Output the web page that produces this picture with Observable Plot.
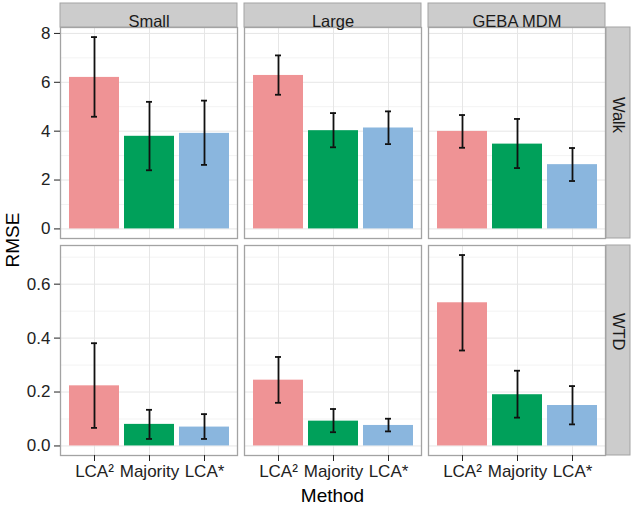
<!DOCTYPE html>
<html><head><meta charset="utf-8">
<script src="https://cdn.jsdelivr.net/npm/d3@7"></script>
<script src="https://cdn.jsdelivr.net/npm/@observablehq/plot@0.6"></script>
<style>
body{margin:0;background:#fff;font-family:"Liberation Sans",Arial,sans-serif;}
#chart{position:relative;width:633px;height:509px;overflow:hidden;}
#chart svg{display:block;}
.title{position:absolute;font-size:19px;color:#000;white-space:nowrap;}
#ytitle{left:13px;top:240px;transform:translate(-50%,-50%) rotate(-90deg);}
#xtitle{left:332.5px;top:496px;transform:translate(-50%,-50%);}
</style></head><body>
<div id="chart"><div class="title" id="ytitle">RMSE</div><div class="title" id="xtitle">Method</div></div>
<script>
const datasets = ["Small", "Large", "GEBA MDM"];
const methods = ["LCA²", "Majority", "LCA*"];
const colors = ["#EF9395", "#00A05A", "#8AB6DE"];
const rowLabels = ["Walk", "WTD"];

// values in order: dataset (Small, Large, GEBA MDM) x method (LCA², Majority, LCA*)
const walkMean = [6.20, 3.79, 3.91, 6.28, 4.02, 4.13, 3.99, 3.47, 2.63];
const walkLow  = [4.59, 2.40, 2.62, 5.49, 3.34, 3.47, 3.32, 2.49, 1.96];
const walkHigh = [7.85, 5.20, 5.25, 7.10, 4.74, 4.81, 4.66, 4.50, 3.31];
const wtdMean = [0.223, 0.080, 0.070, 0.244, 0.092, 0.076, 0.531, 0.190, 0.150];
const wtdLow  = [0.067, 0.026, 0.026, 0.160, 0.051, 0.054, 0.354, 0.105, 0.080];
const wtdHigh = [0.381, 0.134, 0.118, 0.330, 0.137, 0.101, 0.708, 0.279, 0.222];

const walkTicks = [0, 2, 4, 6, 8];
const walkMinor = [1, 3, 5, 7];
const wtdTicks = [0, 0.2, 0.4, 0.6];
const wtdMinor = [0.1, 0.3, 0.5, 0.7];

function toRows(mean, low, high) {
  return datasets.flatMap((ds, i) => methods.map((m, j) => ({
    dataset: ds, method: m, mean: mean[i * 3 + j], low: low[i * 3 + j], high: high[i * 3 + j]
  })));
}

const W = 633, ML = 60, MR = 28, PANEL_W = 177, STRIP = 24;
const TICK_FS = 17, STRIP_FS = 16.5;
const font = "'Liberation Sans', Arial, sans-serif";

function makeRow({data, ticks, minor, fmt, label, height, marginTop, marginBottom, topStrip, xAxis}) {
  const max = d3.max(data, d => d.high);
  const panelH = height - marginTop - marginBottom;
  const marks = [
    Plot.gridY(minor, {stroke: "#f3f3f3", strokeOpacity: 1, strokeWidth: 1}),
    Plot.gridY(ticks, {stroke: "#e6e6e6", strokeOpacity: 1, strokeWidth: 1}),
    Plot.gridX(methods, {stroke: "#e6e6e6", strokeOpacity: 1, strokeWidth: 1}),
    Plot.barY(data, {fx: "dataset", x: "method", y: "mean", fill: "method"}),
    Plot.ruleX(data, {fx: "dataset", x: "method", y1: "low", y2: "high", stroke: "#111", strokeWidth: 1.8}),
    Plot.tickY(data, {fx: "dataset", x: "method", y: "low", stroke: "#111", strokeWidth: 1.8, insetLeft: 22, insetRight: 22}),
    Plot.tickY(data, {fx: "dataset", x: "method", y: "high", stroke: "#111", strokeWidth: 1.8, insetLeft: 22, insetRight: 22}),
    Plot.frame({stroke: "#a3a3a3", strokeWidth: 1.3}),
    Plot.axisY(ticks, {anchor: "left", tickSize: 6, tickPadding: 4, tickFormat: fmt, fontSize: TICK_FS, color: "#222", label: null}),
    Plot.rect([label], {fx: () => datasets[2], fill: "#cccccc", stroke: "#a3a3a3", strokeWidth: 1,
      insetLeft: PANEL_W + 1, insetRight: -(STRIP + 1)}),
    Plot.text([label], {fx: () => datasets[2], text: d => d, frameAnchor: "right", dx: STRIP / 2 + 1,
      rotate: 90, fontSize: STRIP_FS, fill: "#1a1a1a"})
  ];
  if (topStrip) {
    marks.push(
      Plot.rect(datasets, {fx: d => d, fill: "#cccccc", stroke: "#a3a3a3", strokeWidth: 1,
        insetTop: -STRIP, insetBottom: panelH}),
      Plot.text(datasets, {fx: d => d, text: d => d, frameAnchor: "top", dy: -STRIP / 2, fontSize: STRIP_FS, fill: "#1a1a1a"})
    );
  }
  if (xAxis) {
    marks.push(Plot.axisX({anchor: "bottom", tickSize: 6, tickPadding: 3, fontSize: TICK_FS, color: "#222", label: null}));
  }
  return Plot.plot({
    width: W, height, marginLeft: ML, marginRight: MR, marginTop, marginBottom,
    style: {fontFamily: font, background: "white", color: "#222"},
    fx: {domain: datasets, paddingInner: 7 / 184, paddingOuter: 0, axis: null, label: null},
    x: {domain: methods, paddingInner: 0.1, paddingOuter: 0.15, axis: null, label: null},
    y: {domain: [-0.05 * max, 1.05 * max], axis: null, label: null},
    color: {domain: methods, range: colors},
    marks
  });
}

const chart = document.getElementById("chart");
const walk = makeRow({data: toRows(walkMean, walkLow, walkHigh), ticks: walkTicks, minor: walkMinor,
  fmt: d3.format("d"), label: rowLabels[0], height: 240, marginTop: 27, marginBottom: 2, topStrip: true, xAxis: false});
const wtd = makeRow({data: toRows(wtdMean, wtdLow, wtdHigh), ticks: wtdTicks, minor: wtdMinor,
  fmt: d3.format(".1f"), label: rowLabels[1], height: 269, marginTop: 5, marginBottom: 54, topStrip: false, xAxis: true});
chart.insertBefore(walk, chart.firstChild);
chart.insertBefore(wtd, walk.nextSibling);
</script>
</body></html>
